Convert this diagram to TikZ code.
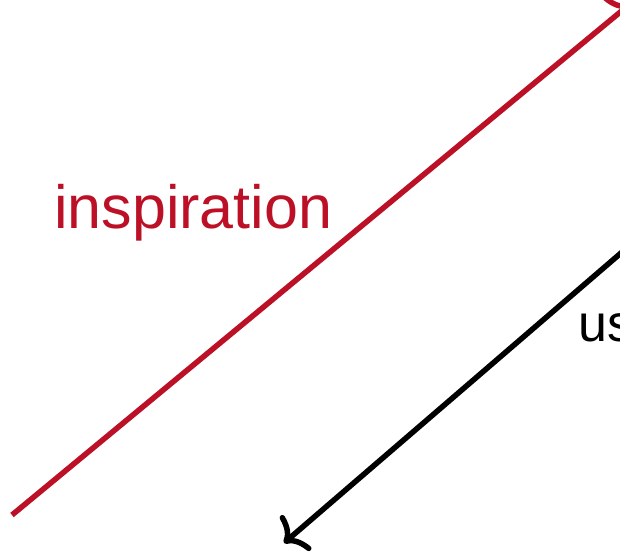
\documentclass[tikz,border=0pt]{standalone}
\usepackage{fontspec}
\setmainfont{Liberation Sans}
\usetikzlibrary{arrows.meta,positioning}
\definecolor{inspred}{RGB}{187,16,38}

\begin{document}
\begin{tikzpicture}[x=1pt,y=-1pt,
  link/.style={line width=5.5pt, -{Computer Modern Rightarrow[length=18pt,width=46pt,line cap=round]}},
  label/.style={anchor=base west, inner sep=0pt}]
\useasboundingbox (0,0) rectangle (620,557);
\clip (0,0) rectangle (620,557);

\coordinate (redstart) at (12,515);
\coordinate (redtip) at (630,4);
\coordinate (blackstart) at (650,228);
\coordinate (blacktip) at (284,543);

\draw [link, inspred] (redstart) -- (redtip);
\draw [link, black] (blackstart) -- (blacktip);

\node [label, inspred, font=\fontsize{61}{72}\selectfont] (insp) at (54,228) {inspiration};
\node [label, font=\fontsize{52}{62}\selectfont] (us) at (578,341) {us};

\end{tikzpicture}
\end{document}
